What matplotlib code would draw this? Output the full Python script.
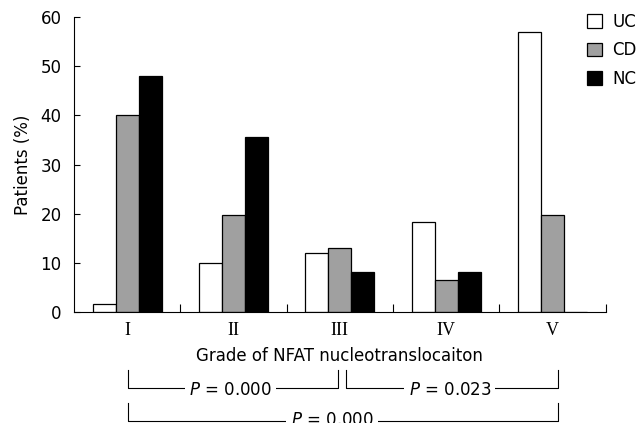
import matplotlib
matplotlib.use('Agg')
import matplotlib.pyplot as plt
import numpy as np

# Patients (%) per NFAT nucleotranslocation grade
grades = ['I', 'II', 'III', 'IV', 'V']
uc = [1.6, 10, 12, 18.4, 57]
cd = [40, 19.7, 13.1, 6.5, 19.7]
nc = [48, 35.5, 8.2, 8.2, 0]

# comparisons shown under the axis: (from grade, to grade, label)
comparisons = [(0, 2, 'P = 0.000'), (2, 4, 'P = 0.023'), (0, 4, 'P = 0.000')]

plt.rcParams['font.family'] = ['DejaVu Sans']

fig = plt.figure(figsize=(6.42, 4.23), dpi=100)
ax = fig.add_axes([74 / 642, 1 - 312 / 423, (605.7 - 74) / 642, (312 - 17) / 423])

x = np.arange(len(grades)) + 0.5
w = 0.216
ax.bar(x - w, uc, w, color='white', edgecolor='black', linewidth=0.9, label='UC')
ax.bar(x, cd, w, color='#a0a0a0', edgecolor='black', linewidth=0.9, label='CD')
ax.bar(x + w, nc, w, color='black', edgecolor='black', linewidth=0.9, label='NC')

ax.set_xlim(0, 5)
ax.set_ylim(0, 60)
ax.set_yticks(range(0, 61, 10))
ax.tick_params(axis='y', direction='in', length=4, width=0.8, labelsize=12, pad=9)
ax.set_xticks([1, 2, 3, 4, 5])
ax.set_xticklabels([])
ax.tick_params(axis='x', which='major', direction='in', length=6, width=0.8)
ax.set_xticks(x, minor=True)
ax.set_xticklabels(grades, minor=True, family='Liberation Serif', fontsize=13)
ax.tick_params(axis='x', which='minor', length=0, pad=7)

for s in ['top', 'right']:
    ax.spines[s].set_visible(False)
for s in ['left', 'bottom']:
    ax.spines[s].set_linewidth(0.8)

ax.set_ylabel('Patients (%)', fontsize=12, labelpad=6)
ax.set_xlabel('Grade of NFAT nucleotranslocaiton', fontsize=12, labelpad=6)

ax.legend(loc='upper left', bbox_to_anchor=(587 / 642, 1 - 13 / 423),
          bbox_transform=fig.transFigure, frameon=False,
          fontsize=12, handlelength=0.9, handleheight=0.9, handletextpad=0.6,
          labelspacing=0.62, borderpad=0, borderaxespad=0)

# brackets under the axis
trans = ax.get_xaxis_transform()
rows = [(-0.1966, -0.2576), (-0.1966, -0.2576), (-0.3085, -0.3695)]
for (a, b, lab), (ytop, ybot) in zip(comparisons, rows):
    x0 = x[a] + 0.005
    x1 = x[b] - 0.02 if b == 2 else x[b] + 0.05
    if a == 2:
        x0 = x[a] + 0.06
    ax.plot([x0, x0, x1, x1], [ytop, ybot, ybot, ytop], color='black', lw=0.8,
            transform=trans, clip_on=False)
    wide = a == 0 and b == 4
    xm = (x0 + x1) / 2 - (0.1 if wide else 0.02)
    ax.text(xm, ybot + (0.004 if wide else -0.008), '$P$' + lab[1:], ha='center',
            va='center', fontsize=12, transform=trans, clip_on=False,
            bbox=dict(facecolor='white', edgecolor='none', pad=3))

fig.savefig('out.png', dpi=100)
